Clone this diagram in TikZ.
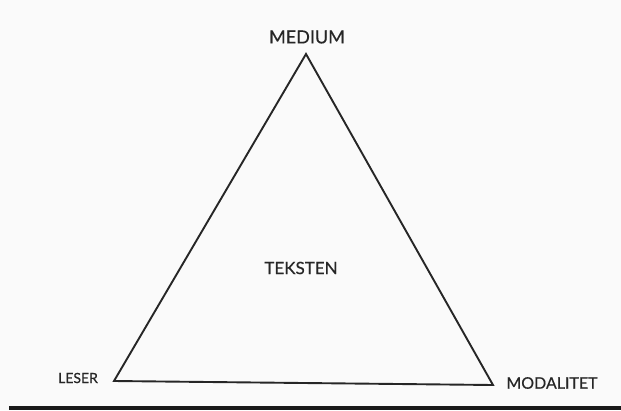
\documentclass[tikz,border=0pt]{standalone}
\usepackage{fontspec}
\setmainfont{Lato}[FakeBold=0.4]
\usepackage{tikz}
\usetikzlibrary{calc}

\begin{document}
\begin{tikzpicture}[
    x=1pt,y=-1pt,
    vertex/.style={inner sep=0pt,text=black!85},
    side/.style={draw=black!85,line width=1.9pt,line join=miter},
]
    \fill[black!2] (0,0) rectangle (621,410);
    \useasboundingbox (0,0) rectangle (621,410);

    \coordinate (top) at (306,54);
    \coordinate (left) at (114,381);
    \coordinate (right) at (493,385);

    \node[vertex,font=\fontsize{18}{19}\selectfont] (medium) at (307,37) {MEDIUM};
    \node[vertex,font=\fontsize{14}{15}\selectfont] (leser) at (78,378) {LESER};
    \node[vertex,font=\fontsize{16}{17}\selectfont] (modalitet) at (552,383) {MODALITET};
    \node[vertex,font=\fontsize{17}{18}\selectfont] (teksten) at (301,268) {TEKSTEN};

    \draw[side] (top) -- (left) -- (right) -- cycle;
    \fill[black!90] (9,406) rectangle (621,410);
\end{tikzpicture}
\end{document}
